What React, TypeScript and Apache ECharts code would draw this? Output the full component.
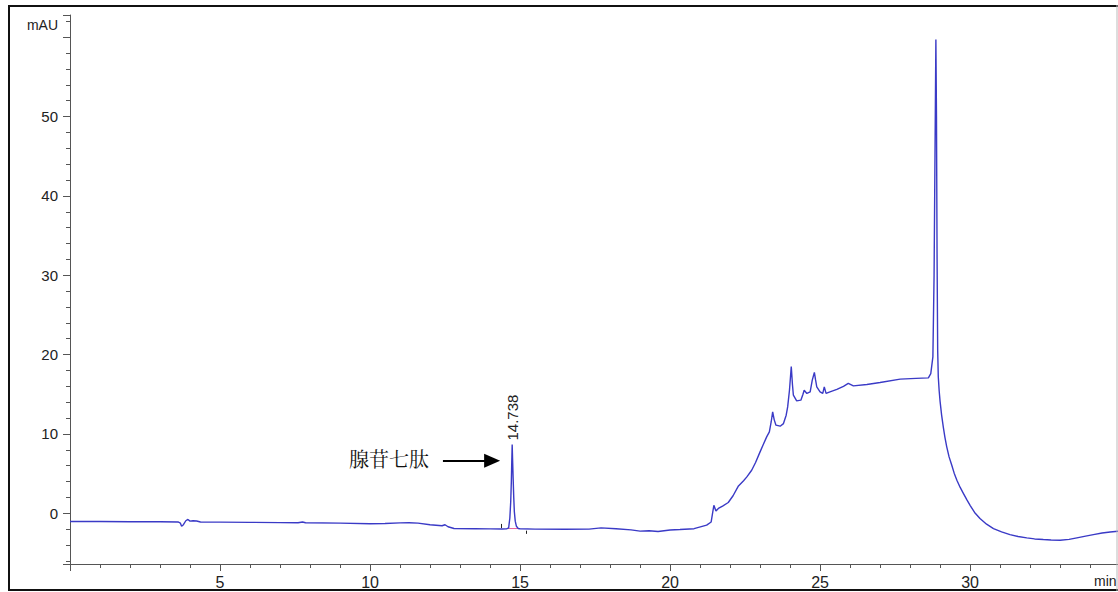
import React, { useEffect, useRef } from "react";
import * as echarts from "echarts";

// ---- chromatogram data (time in min, signal in mAU) ----
const earlyTimes = [0.0, 1.0, 2.0, 3.0, 3.6, 3.68, 3.72, 3.78, 3.86, 3.93, 4.0, 4.1, 4.22, 4.35, 5.0, 6.0, 7.0, 7.6, 7.75, 7.85, 9.0, 10.0, 10.5, 11.0, 11.3, 11.6, 12.0, 12.4, 12.5, 12.6, 12.8, 13.5, 14.0, 14.4, 14.55];
const earlyValues = [-1.05, -1.05, -1.07, -1.08, -1.1, -1.25, -1.65, -1.45, -0.95, -0.78, -1.0, -0.95, -0.98, -1.1, -1.12, -1.15, -1.18, -1.2, -1.1, -1.2, -1.25, -1.33, -1.3, -1.22, -1.2, -1.25, -1.45, -1.58, -1.45, -1.7, -1.92, -1.95, -1.97, -1.98, -1.97];

const peakTimes = [14.62, 14.66, 14.69, 14.71, 14.725, 14.738, 14.75, 14.77, 14.79, 14.81, 14.84, 14.88, 14.94];
const peakValues = [-1.85, -0.6, 1.5, 4.0, 6.6, 8.66, 7.0, 4.4, 2.0, 0.2, -1.0, -1.65, -1.92];

const gradientTimes = [15.0, 15.5, 16.5, 17.3, 17.7, 18.2, 18.7, 19.0, 19.3, 19.6, 20.0, 20.33, 20.8, 21.22, 21.37, 21.46, 21.53, 21.61, 21.75, 21.94, 22.1, 22.28, 22.45, 22.56, 22.72, 22.85, 23.0, 23.1, 23.22, 23.31, 23.37, 23.42, 23.47, 23.53, 23.67, 23.78, 23.87, 23.92, 23.98, 24.04, 24.08, 24.11, 24.22, 24.36, 24.43, 24.47, 24.56, 24.67, 24.74, 24.81, 24.85, 24.89, 25.0, 25.09, 25.14, 25.2, 25.33, 25.56, 25.78, 25.94, 26.11, 26.56, 27.0, 27.67, 28.2, 28.61, 28.69, 28.76];
const gradientValues = [-1.95, -2.0, -2.02, -2.0, -1.85, -1.95, -2.1, -2.25, -2.2, -2.3, -2.12, -2.06, -1.95, -1.5, -1.1, 1.0, 0.29, 0.6, 0.9, 1.35, 2.2, 3.44, 4.1, 4.58, 5.42, 6.4, 7.73, 8.6, 9.62, 10.25, 11.5, 12.77, 11.8, 11.1, 10.97, 11.3, 12.36, 13.4, 15.5, 18.5, 16.2, 14.88, 14.16, 14.25, 15.0, 15.5, 15.1, 15.3, 16.77, 17.74, 16.8, 15.93, 15.3, 15.1, 15.93, 15.1, 15.3, 15.6, 16.0, 16.36, 16.05, 16.23, 16.48, 16.9, 17.0, 17.06, 17.6, 19.7];

const mainPeakTimes = [28.8, 28.83, 28.86, 28.88, 28.9, 28.92, 28.94, 28.97, 29.0, 29.05, 29.11, 29.16, 29.22, 29.3, 29.39, 29.47, 29.56, 29.67, 29.78, 29.89, 30.0, 30.15, 30.33, 30.55, 30.78, 31.05, 31.33, 31.6, 31.89, 32.15, 32.44, 32.7, 33.0, 33.3, 33.56, 33.85, 34.11, 34.4, 34.67, 34.93];
const mainPeakValues = [30.0, 45.0, 59.7, 50.0, 32.0, 20.5, 17.2, 15.4, 14.1, 12.4, 10.8, 9.6, 8.4, 7.1, 6.05, 5.05, 4.16, 3.25, 2.48, 1.72, 1.0, 0.1, -0.67, -1.38, -1.93, -2.35, -2.69, -2.93, -3.1, -3.24, -3.32, -3.38, -3.4, -3.3, -3.1, -2.88, -2.69, -2.5, -2.36, -2.27];

// annotations
const peakRetention = 14.738;
const peakHeight = 8.66;
const peakLabel = "14.738";
const compoundName = "腺苷七肽";
const integrationTimes = [14.6, 14.95];
const integrationValues = [-1.93, -1.93];
const eventTimes = [14.39, 15.22];
const eventRanges = [[-1.35, -1.87], [-2.2, -2.6]];
const arrowTimes = [12.43, 14.07];
const arrowLevel = 6.6;

// axes
const xTickLabels = [5, 10, 15, 20, 25, 30];
const yTickLabels = [0, 10, 20, 30, 40, 50];
const yUnit = "mAU";
const xUnit = "min";

const FONT = "Arial, 'Liberation Sans', Helvetica, sans-serif";

function pairs(t: number[], v: number[]) {
  return t.map((x, i) => [x, v[i]]);
}

export default function App() {
  const ref = useRef<HTMLDivElement>(null);
  useEffect(() => {
    const chart = echarts.init(ref.current!, null, { renderer: "svg" });
    const trace = [
      ...pairs(earlyTimes, earlyValues),
      ...pairs(peakTimes, peakValues),
      ...pairs(gradientTimes, gradientValues),
      ...pairs(mainPeakTimes, mainPeakValues),
    ];
    chart.setOption({
      animation: false,
      backgroundColor: "#ffffff",
      grid: { left: 70, right: 0, top: 15, bottom: 28, containLabel: false, outerBoundsMode: "none" },
      xAxis: {
        type: "value",
        min: 0,
        max: 34.93,
        interval: 5,
        axisLine: { onZero: false, lineStyle: { color: "#555", width: 1 } },
        axisTick: { show: true, length: 7, lineStyle: { color: "#555" } },
        minorTick: { show: true, splitNumber: 5, length: 4, lineStyle: { color: "#555" } },
        splitLine: { show: false },
        minorSplitLine: { show: false },
        axisLabel: {
          margin: 10,
          fontSize: 16,
          color: "#222",
          fontFamily: FONT,
          formatter: (v: number) => (xTickLabels.includes(v) ? String(v) : ""),
        },
      },
      yAxis: {
        type: "value",
        min: -6.4,
        max: 62.8,
        splitNumber: 7,
        axisLine: { show: true, lineStyle: { color: "#555", width: 1 } },
        axisTick: { show: true, length: 7, lineStyle: { color: "#555" } },
        minorTick: { show: true, splitNumber: 5, length: 4, lineStyle: { color: "#555" } },
        splitLine: { show: false },
        minorSplitLine: { show: false },
        axisLabel: {
          margin: 12,
          fontSize: 15,
          color: "#222",
          fontFamily: FONT,
          formatter: (v: number) => (yTickLabels.includes(Math.round(v)) && Math.abs(v - Math.round(v)) < 1e-6 ? String(Math.round(v)) : ""),
        },
      },
      series: [
        {
          type: "line",
          data: pairs(integrationTimes, integrationValues),
          showSymbol: false,
          silent: true,
          lineStyle: { color: "#e8609c", width: 1 },
          z: 2,
          markLine: {
            silent: true,
            animation: false,
            label: { show: false },
            symbol: ["none", "none"],
            lineStyle: { color: "#222", width: 1, type: "solid" },
            data: [
              [{ coord: [eventTimes[0], eventRanges[0][0]] }, { coord: [eventTimes[0], eventRanges[0][1]] }],
              [{ coord: [eventTimes[1], eventRanges[1][0]] }, { coord: [eventTimes[1], eventRanges[1][1]] }],
              [
                { coord: [arrowTimes[0], arrowLevel], symbol: "none", lineStyle: { color: "#000", width: 2 } },
                { coord: [arrowTimes[1], arrowLevel], symbol: "triangle", symbolSize: [14, 16], lineStyle: { color: "#000", width: 2 }, itemStyle: { color: "#000" } },
              ],
            ],
          },
        },
        {
          type: "line",
          data: trace,
          showSymbol: false,
          silent: true,
          lineStyle: { color: "#3a3ac6", width: 1.4 },
          z: 3,
        },
      ],
    });

    const p = chart.convertToPixel({ seriesIndex: 1 }, [peakRetention, peakHeight]) as number[];
    chart.setOption({
      graphic: [
        {
          type: "text",
          x: p[0],
          y: p[1] - 4,
          rotation: Math.PI / 2,
          style: { text: peakLabel, fontSize: 15, fontFamily: FONT, fill: "#222", align: "left", verticalAlign: "middle" },
          z: 50,
        },
        {
          type: "text",
          x: 349,
          y: 458,
          style: { text: compoundName, fontSize: 20, fontFamily: "'Noto Serif CJK SC', 'Noto Sans CJK SC', serif", fill: "#111", align: "left", verticalAlign: "middle" },
          z: 50,
        },
        {
          type: "text",
          x: 58,
          y: 25,
          style: { text: yUnit, fontSize: 14, fontFamily: FONT, fill: "#222", align: "right", verticalAlign: "middle" },
          z: 50,
        },
        {
          type: "text",
          x: 1094,
          y: 581,
          style: { text: xUnit, fontSize: 14, fontFamily: FONT, fill: "#222", align: "left", verticalAlign: "middle" },
          z: 50,
        },
        { type: "line", shape: { x1: 8, y1: 6, x2: 1118, y2: 6 }, style: { stroke: "#111", lineWidth: 2 }, z: 100 },
        { type: "line", shape: { x1: 9, y1: 5, x2: 9, y2: 591 }, style: { stroke: "#111", lineWidth: 2 }, z: 100 },
        { type: "line", shape: { x1: 8, y1: 590, x2: 1118, y2: 590 }, style: { stroke: "#111", lineWidth: 2 }, z: 100 },
        { type: "line", shape: { x1: 1117, y1: 5, x2: 1117, y2: 591 }, style: { stroke: "#bbb", lineWidth: 1 }, z: 100 },
      ],
    });
    return () => chart.dispose();
  }, []);
  return (
    <div
      ref={ref}
      style={{ position: "absolute", left: 0, top: 0, width: 1118, height: 592, background: "#fff" }}
    />
  );
}
